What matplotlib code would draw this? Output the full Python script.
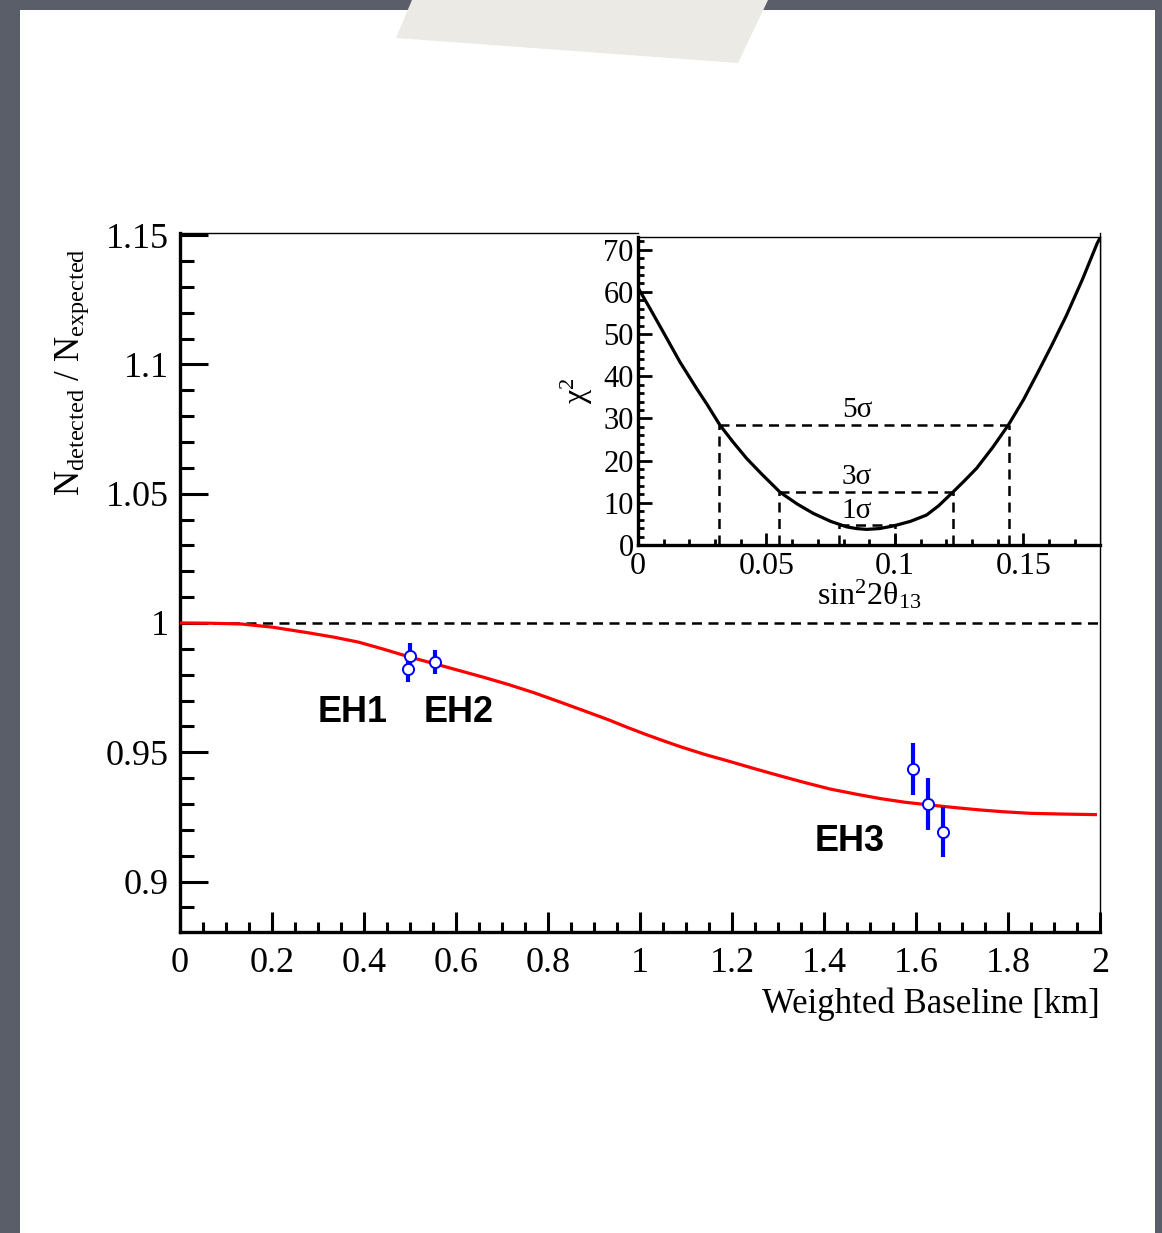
import matplotlib
matplotlib.use('Agg')
import matplotlib.pyplot as plt
from matplotlib.patches import Rectangle, Polygon
from matplotlib.ticker import MultipleLocator, FixedLocator

plt.rcParams['font.family'] = ['Liberation Serif', 'DejaVu Serif']
plt.rcParams['mathtext.fontset'] = 'custom'
plt.rcParams['mathtext.rm'] = 'Liberation Serif'
plt.rcParams['mathtext.it'] = 'Liberation Serif:italic'

# expected ratio vs baseline
curve_baseline = [0.0, 0.067, 0.134, 0.200, 0.279, 0.335, 0.388, 0.440, 0.496, 0.550,
                  0.605, 0.660, 0.714, 0.770, 0.822, 0.876, 0.931, 0.970, 1.011, 1.050,
                  1.087, 1.140, 1.196, 1.250, 1.304, 1.360, 1.413, 1.470, 1.522, 1.575,
                  1.630, 1.685, 1.739, 1.790, 1.848, 1.920, 1.990]
curve_ratio = [1.0000, 0.9999, 0.9996, 0.9984, 0.9962, 0.9945, 0.9926, 0.9900, 0.9870, 0.9844,
               0.9817, 0.9790, 0.9762, 0.9730, 0.9697, 0.9662, 0.9626, 0.9598, 0.9570, 0.9545,
               0.9522, 0.9492, 0.9464, 0.9436, 0.9409, 0.9382, 0.9358, 0.9338, 0.9321, 0.9307,
               0.9296, 0.9286, 0.9277, 0.9270, 0.9264, 0.9261, 0.9259]

# detector measurements
det_baseline = [0.496, 0.500, 0.554, 1.594, 1.625, 1.659]
det_ratio = [0.9821, 0.9873, 0.9848, 0.9434, 0.9299, 0.9192]
det_err = [0.0050, 0.0050, 0.0046, 0.0100, 0.0100, 0.0097]

hall_names = ['EH1', 'EH2', 'EH3']
hall_x = [0.375, 0.606, 1.456]
hall_y = [0.9655, 0.9655, 0.9155]

x_ticks = [0, 0.2, 0.4, 0.6, 0.8, 1.0, 1.2, 1.4, 1.6, 1.8, 2.0]
x_ticklabels = ['0', '0.2', '0.4', '0.6', '0.8', '1', '1.2', '1.4', '1.6', '1.8', '2']
y_ticks = [0.9, 0.95, 1.0, 1.05, 1.1, 1.15]
y_ticklabels = ['0.9', '0.95', '1', '1.05', '1.1', '1.15']

# chi2 scan (inset)
sin2 = [0.0, 0.005, 0.0098, 0.0163, 0.0228, 0.027, 0.0319, 0.037, 0.0423, 0.048,
        0.0553, 0.062, 0.0682, 0.075, 0.0812, 0.085, 0.0890, 0.094, 0.0993, 0.106,
        0.1123, 0.117, 0.1225, 0.127, 0.1318, 0.138, 0.1441, 0.150, 0.1551, 0.161,
        0.1668, 0.173, 0.1787, 0.1800]
chi2 = [61.0, 55.7, 50.5, 43.4, 37.1, 33.2, 28.4, 24.4, 20.5, 16.9,
        12.5, 9.7, 7.5, 5.6, 4.3, 3.9, 3.7, 3.9, 4.5, 5.6,
        7.1, 9.3, 12.5, 15.2, 18.2, 23.1, 28.4, 34.4, 40.3, 47.3,
        54.5, 63.0, 71.5, 73.0]

sigma_names = ['1σ', '3σ', '5σ']
sigma_chi2 = [4.7, 12.5, 28.4]
sigma_lo = [0.0783, 0.0550, 0.0317]
sigma_hi = [0.1000, 0.1224, 0.1445]
sigma_text_y = [8.1, 16.1, 32.0]

inset_x_ticks = [0, 0.05, 0.1, 0.15]
inset_x_ticklabels = ['0', '0.05', '0.1', '0.15']

W, H = 1162, 1233
fig = plt.figure(figsize=(W / 100, H / 100), dpi=100, facecolor='#5a5e68')

# white slide page and the piece of tape on top
fig.patches.append(Rectangle((20 / W, 0), 1135 / W, 1 - 10 / H, transform=fig.transFigure,
                             facecolor='white', edgecolor='none', zorder=-5))
tape_px = [(412, 0), (768, 0), (738, 63), (396, 38)]
fig.patches.append(Polygon([(x / W, 1 - y / H) for x, y in tape_px], closed=True,
                           transform=fig.transFigure, facecolor='#ebeae5',
                           edgecolor='none', zorder=-4))

ax = fig.add_axes([180 / W, 1 - 932 / H, 920 / W, 699 / H])
ax.set_xlim(0, 2)
ax.set_ylim(0.8805, 1.1508)
ax.patch.set_alpha(0)

ax.axhline(1.0, color='black', lw=1.8, dashes=(4, 2.6), zorder=2)
ax.plot(curve_baseline, curve_ratio, color='red', lw=2.3, zorder=3)
ax.errorbar(det_baseline, det_ratio, yerr=det_err, fmt='o', color='blue',
            ecolor='blue', elinewidth=3.0, capsize=0, ms=8, mfc='white',
            mec='blue', mew=1.4, zorder=4)

for name, x, y in zip(hall_names, hall_x, hall_y):
    ax.text(x, y, name, ha='center', va='center', fontsize=26, fontweight='bold',
            family='Liberation Sans')

for side in ['left', 'bottom']:
    ax.spines[side].set_linewidth(2.4)
for side in ['top', 'right']:
    ax.spines[side].set_linewidth(1.0)
ax.spines['top'].set_bounds(0, 0.995)

ax.xaxis.set_major_locator(FixedLocator(x_ticks))
ax.xaxis.set_minor_locator(MultipleLocator(0.05))
ax.yaxis.set_major_locator(FixedLocator(y_ticks))
ax.yaxis.set_minor_locator(MultipleLocator(0.01))
ax.set_xticklabels(x_ticklabels)
ax.set_yticklabels(y_ticklabels)
ax.tick_params(axis='x', which='major', direction='in', length=14.5, width=2.2,
               labelsize=26, pad=11, top=False)
ax.tick_params(axis='x', which='minor', direction='in', length=7.5, width=2.2, top=False)
ax.tick_params(axis='y', which='major', direction='in', length=20, width=2.2,
               labelsize=26, pad=8, right=False)
ax.tick_params(axis='y', which='minor', direction='in', length=10, width=2.2, right=False)

fig.text(1100 / W, 1 - 1004 / H, 'Weighted Baseline [km]', ha='right', va='center',
         fontsize=25)
fig.text(72 / W, 1 - 372 / H, r'N$_{\rm detected}$ / N$_{\rm expected}$', ha='center',
         va='center', rotation=90, fontsize=25)

# inset: chi2 vs sin^2 2theta13
axin = fig.add_axes([638 / W, 1 - 545 / H, 462 / W, 308 / H])
axin.set_xlim(0, 0.1798)
axin.set_ylim(0, 73)
axin.plot(sin2, chi2, color='black', lw=2.3, zorder=3)
for lab, c, lo, hi, ty in zip(sigma_names, sigma_chi2, sigma_lo, sigma_hi, sigma_text_y):
    axin.plot([lo, hi], [c, c], color='black', lw=1.8, dashes=(4, 2.6))
    axin.plot([lo, lo], [0, c], color='black', lw=1.8, dashes=(4, 2.6))
    axin.plot([hi, hi], [0, c], color='black', lw=1.8, dashes=(4, 2.6))
    axin.text(0.0852, ty, lab, ha='center', va='center', fontsize=21)

for side in ['left', 'bottom']:
    axin.spines[side].set_linewidth(2.4)
for side in ['top', 'right']:
    axin.spines[side].set_linewidth(1.0)
axin.xaxis.set_major_locator(FixedLocator(inset_x_ticks))
axin.xaxis.set_minor_locator(MultipleLocator(0.01))
axin.yaxis.set_major_locator(MultipleLocator(10))
axin.yaxis.set_minor_locator(MultipleLocator(2))
axin.set_xticklabels(inset_x_ticklabels)
axin.tick_params(axis='x', which='major', direction='in', length=8.5, width=2.0,
                 labelsize=23, pad=5, top=False)
axin.tick_params(axis='x', which='minor', direction='in', length=4.5, width=2.0, top=False)
axin.tick_params(axis='y', which='major', direction='in', length=10, width=2.0,
                 labelsize=22, pad=3, right=False)
axin.tick_params(axis='y', which='minor', direction='in', length=4.5, width=2.0, right=False)
axin.set_xlabel('sin$^{2}$2θ$_{13}$', fontsize=23, labelpad=-2)
axin.set_ylabel('χ$^{2}$', fontsize=23, labelpad=6)

fig.savefig('out.png', dpi=100, facecolor=fig.get_facecolor())
